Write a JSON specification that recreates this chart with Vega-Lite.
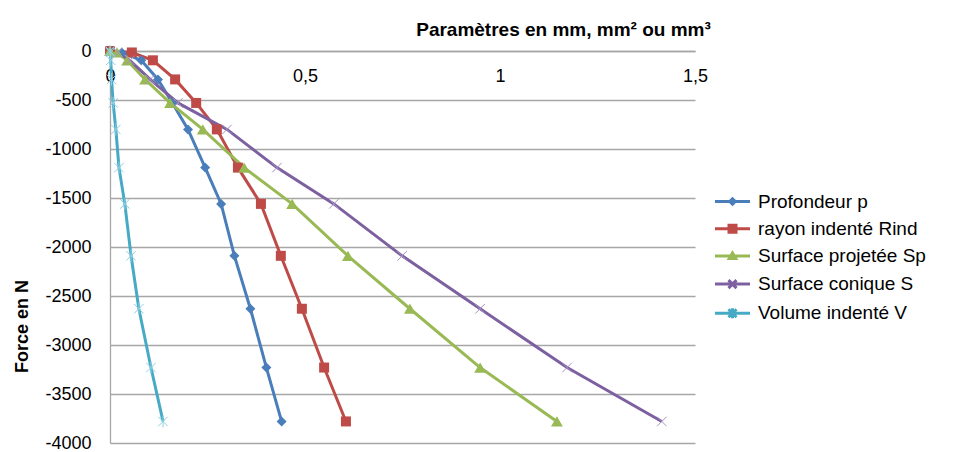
{
  "$schema": "https://vega.github.io/schema/vega-lite/v6.json",
  "width": 585,
  "height": 392,
  "autosize": "none",
  "padding": {"left": 110, "top": 51, "right": 266, "bottom": 9},
  "background": "white",
  "config": {
    "view": {"stroke": null},
    "font": "Liberation Sans",
    "legend": {
      "title": null,
      "padding": 0,
      "symbolSize": 100,
      "symbolStrokeWidth": 3,
      "symbolOpacity": 1,
      "labelFont": "Liberation Sans",
      "labelFontSize": 19,
      "labelColor": "#000000",
      "labelOffset": 16,
      "rowPadding": 7.2,
      "labelLimit": 300
    }
  },
  "data": {
    "values": [
      {"s": "Profondeur p", "F": 0, "x": 0},
      {"s": "Profondeur p", "F": -15, "x": 0.03},
      {"s": "Profondeur p", "F": -95, "x": 0.08},
      {"s": "Profondeur p", "F": -290, "x": 0.123},
      {"s": "Profondeur p", "F": -530, "x": 0.16},
      {"s": "Profondeur p", "F": -800, "x": 0.2},
      {"s": "Profondeur p", "F": -1190, "x": 0.244},
      {"s": "Profondeur p", "F": -1560, "x": 0.285},
      {"s": "Profondeur p", "F": -2090, "x": 0.319},
      {"s": "Profondeur p", "F": -2630, "x": 0.36},
      {"s": "Profondeur p", "F": -3230, "x": 0.401},
      {"s": "Profondeur p", "F": -3780, "x": 0.44},
      {"s": "rayon indenté Rind", "F": 0, "x": 0},
      {"s": "rayon indenté Rind", "F": -15, "x": 0.056},
      {"s": "rayon indenté Rind", "F": -95, "x": 0.11},
      {"s": "rayon indenté Rind", "F": -290, "x": 0.167},
      {"s": "rayon indenté Rind", "F": -530, "x": 0.221},
      {"s": "rayon indenté Rind", "F": -800, "x": 0.274},
      {"s": "rayon indenté Rind", "F": -1190, "x": 0.328},
      {"s": "rayon indenté Rind", "F": -1560, "x": 0.387},
      {"s": "rayon indenté Rind", "F": -2090, "x": 0.438},
      {"s": "rayon indenté Rind", "F": -2630, "x": 0.492},
      {"s": "rayon indenté Rind", "F": -3230, "x": 0.549},
      {"s": "rayon indenté Rind", "F": -3780, "x": 0.605},
      {"s": "Surface projetée Sp", "F": 0, "x": 0},
      {"s": "Surface projetée Sp", "F": -15, "x": 0.018},
      {"s": "Surface projetée Sp", "F": -95, "x": 0.044},
      {"s": "Surface projetée Sp", "F": -290, "x": 0.09},
      {"s": "Surface projetée Sp", "F": -530, "x": 0.154},
      {"s": "Surface projetée Sp", "F": -800, "x": 0.238},
      {"s": "Surface projetée Sp", "F": -1190, "x": 0.344},
      {"s": "Surface projetée Sp", "F": -1560, "x": 0.467},
      {"s": "Surface projetée Sp", "F": -2090, "x": 0.61},
      {"s": "Surface projetée Sp", "F": -2630, "x": 0.769},
      {"s": "Surface projetée Sp", "F": -3230, "x": 0.949},
      {"s": "Surface projetée Sp", "F": -3780, "x": 1.146},
      {"s": "Surface conique S", "F": 0, "x": 0},
      {"s": "Surface conique S", "F": -15, "x": 0.02},
      {"s": "Surface conique S", "F": -95, "x": 0.051},
      {"s": "Surface conique S", "F": -290, "x": 0.103},
      {"s": "Surface conique S", "F": -530, "x": 0.174},
      {"s": "Surface conique S", "F": -800, "x": 0.3},
      {"s": "Surface conique S", "F": -1190, "x": 0.428},
      {"s": "Surface conique S", "F": -1560, "x": 0.574},
      {"s": "Surface conique S", "F": -2090, "x": 0.749},
      {"s": "Surface conique S", "F": -2630, "x": 0.949},
      {"s": "Surface conique S", "F": -3230, "x": 1.172},
      {"s": "Surface conique S", "F": -3780, "x": 1.415},
      {"s": "Volume indenté V", "F": 0, "x": 0},
      {"s": "Volume indenté V", "F": -15, "x": 0.001},
      {"s": "Volume indenté V", "F": -95, "x": 0.002},
      {"s": "Volume indenté V", "F": -290, "x": 0.004},
      {"s": "Volume indenté V", "F": -530, "x": 0.008},
      {"s": "Volume indenté V", "F": -800, "x": 0.015},
      {"s": "Volume indenté V", "F": -1190, "x": 0.023},
      {"s": "Volume indenté V", "F": -1560, "x": 0.038},
      {"s": "Volume indenté V", "F": -2090, "x": 0.054},
      {"s": "Volume indenté V", "F": -2630, "x": 0.074},
      {"s": "Volume indenté V", "F": -3230, "x": 0.105},
      {"s": "Volume indenté V", "F": -3780, "x": 0.136}
    ]
  },
  "encoding": {
    "x": {
      "field": "x",
      "type": "quantitative",
      "scale": {"domain": [0, 1.5], "nice": false, "zero": false},
      "axis": {
        "orient": "bottom",
        "offset": -392,
        "values": [0, 0.5, 1, 1.5],
        "grid": false,
        "ticks": false,
        "domainColor": "#a6a6a6",
        "domainWidth": 1.3,
        "labelFont": "Liberation Sans",
        "labelFontSize": 18,
        "labelColor": "#000000",
        "labelPadding": 16,
        "labelFlush": false,
        "labelOverlap": false,
        "labelExpr": "replace(format(datum.value, '~g'), '.', ',')",
        "title": "Paramètres en mm, mm² ou mm³",
        "titleFont": "Liberation Sans",
        "titleFontSize": 19,
        "titleFontWeight": "bold",
        "titleColor": "#000000",
        "titleX": 453,
        "titleY": -22,
        "titleAlign": "center",
        "titleBaseline": "middle"
      }
    },
    "y": {
      "field": "F",
      "type": "quantitative",
      "scale": {"domain": [-4000, 0], "nice": false, "zero": false},
      "axis": {
        "values": [-4000, -3500, -3000, -2500, -2000, -1500, -1000, -500, 0],
        "grid": true,
        "gridColor": "#a6a6a6",
        "gridWidth": 1.3,
        "ticks": false,
        "domainColor": "#a6a6a6",
        "domainWidth": 1.3,
        "labelFont": "Liberation Sans",
        "labelFontSize": 18,
        "labelColor": "#000000",
        "labelPadding": 19,
        "labelExpr": "'' + datum.value",
        "title": "Force en N",
        "titleFont": "Liberation Sans",
        "titleFontSize": 18,
        "titleFontWeight": "bold",
        "titleColor": "#000000",
        "titleX": -88,
        "titleY": 275,
        "titleAngle": 270,
        "titleAlign": "center",
        "titleBaseline": "middle"
      }
    }
  },
  "layer": [
    {
      "mark": {"type": "point", "filled": false, "opacity": 0},
      "encoding": {
        "color": {
          "field": "s",
          "type": "nominal",
          "scale": {
            "domain": ["Profondeur p", "rayon indenté Rind", "Surface projetée Sp", "Surface conique S", "Volume indenté V"],
            "range": ["#4A7EBB", "#BE4B48", "#98B954", "#7D60A0", "#46AAC5"]
          },
          "legend": {"orient": "none", "legendX": 613, "legendY": 141}
        },
        "shape": {
          "field": "s",
          "type": "nominal",
          "scale": {
            "domain": ["Profondeur p", "rayon indenté Rind", "Surface projetée Sp", "Surface conique S", "Volume indenté V"],
            "range": [
              "M-3.5,0L3.5,0M0,-0.55L0.55,0L0,0.55L-0.55,0ZM0,-0.55L0,0.55",
              "M-3.5,0L3.5,0M-0.7,-0.7L0.7,-0.7L0.7,0.7L-0.7,0.7ZM-0.7,-0.35L0.7,-0.35M-0.7,0.35L0.7,0.35",
              "M-3.5,0L3.5,0M0,-0.6L0.65,0.5L-0.65,0.5ZM0,-0.4L0,0.5",
              "M-3.5,0L3.5,0M-0.8,-0.8L0.8,0.8M-0.8,0.8L0.8,-0.8",
              "M-3.5,0L3.5,0M-0.8,-0.8L0.8,0.8M-0.8,0.8L0.8,-0.8M0,-1L0,1"
            ]
          },
          "legend": {"orient": "none", "legendX": 613, "legendY": 141}
        }
      }
    },
    {
      "mark": {"type": "line", "strokeWidth": 3},
      "encoding": {
        "stroke": {
          "field": "s",
          "type": "nominal",
          "scale": {
            "domain": ["Profondeur p", "rayon indenté Rind", "Surface projetée Sp", "Surface conique S", "Volume indenté V"],
            "range": ["#4A7EBB", "#BE4B48", "#98B954", "#7D60A0", "#46AAC5"]
          },
          "legend": null
        }
      }
    },
    {
      "transform": [{"filter": "datum.s == 'Profondeur p'"}],
      "mark": {"type": "point", "shape": "diamond", "size": 100, "filled": true, "opacity": 1, "color": "#4A7EBB", "strokeWidth": 0}
    },
    {
      "transform": [{"filter": "datum.s == 'rayon indenté Rind'"}],
      "mark": {"type": "point", "shape": "square", "size": 100, "filled": true, "opacity": 1, "color": "#BE4B48", "strokeWidth": 0}
    },
    {
      "transform": [{"filter": "datum.s == 'Surface projetée Sp'"}],
      "mark": {"type": "point", "shape": "triangle-up", "size": 140, "filled": true, "opacity": 1, "color": "#98B954", "strokeWidth": 0}
    },
    {
      "transform": [{"filter": "datum.s == 'Surface conique S'"}],
      "mark": {"type": "point", "shape": "M-1,-1L1,1M-1,1L1,-1", "size": 90, "filled": false, "opacity": 1, "color": "#A592C4", "strokeWidth": 1}
    },
    {
      "transform": [{"filter": "datum.s == 'Volume indenté V'"}],
      "mark": {"type": "point", "shape": "M-1,-1L1,1M-1,1L1,-1M0,-1.3L0,1.3", "size": 90, "filled": false, "opacity": 1, "color": "#8FCFE2", "strokeWidth": 1}
    }
  ]
}
